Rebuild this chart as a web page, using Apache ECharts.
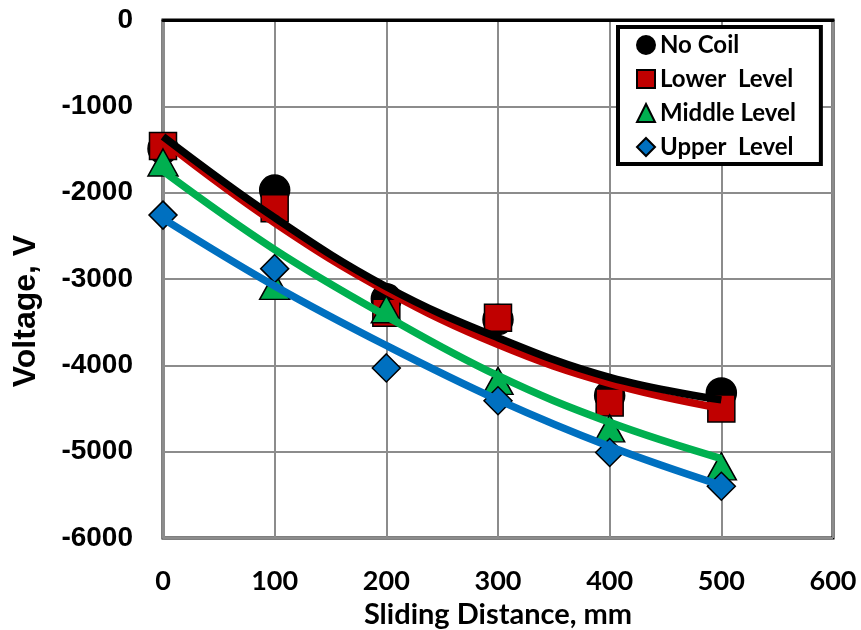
<html>
<head>
  <meta charset="utf-8">
  <title>Voltage vs Sliding Distance</title>
  <style>
    html, body { margin: 0; padding: 0; background: #fff; }
  </style>
</head>
<body>
  <div id="main" style="width: 861px;height:630px;"></div>
</body>
<script src="https://cdn.jsdelivr.net/npm/echarts@6/dist/echarts.min.js"></script>
<script>
  // measured points
  let distance = [0, 100, 200, 300, 400, 500];
  let noCoil = [-1490, -1970, -3230, -3470, -4350, -4320];
  let lowerLevel = [-1460, -2180, -3390, -3450, -4430, -4500];
  let middleLevel = [-1650, -3080, -3350, -4180, -4730, -5170];
  let upperLevel = [-2260, -2880, -4030, -4410, -5010, -5400];

  // trend curves at the same distances
  let noCoilFit = [-1350, -2290, -3090, -3680, -4140, -4400];
  let lowerFit = [-1400, -2350, -3140, -3760, -4210, -4500];
  let middleFit = [-1750, -2660, -3430, -4120, -4660, -5080];
  let upperFit = [-2300, -3080, -3770, -4400, -4940, -5390];

  let names = ['No Coil', 'Lower  Level', 'Middle Level', 'Upper  Level'];
  let colors = ['#000000', '#C00000', '#00B050', '#0070C0'];
  let symbols = ['circle', 'rect', 'triangle', 'diamond'];
  let sizes = [30, 27, [30, 27], 28];
  let points = [noCoil, lowerLevel, middleLevel, upperLevel];
  let fits = [noCoilFit, lowerFit, middleFit, upperFit];

  let pairs = arr => distance.map((d, i) => [d, arr[i]]);

  let scatter = names.map((n, i) => ({
    name: n,
    type: 'scatter',
    data: pairs(points[i]),
    symbol: symbols[i],
    symbolSize: sizes[i],
    z: 2 + i,
    itemStyle: { color: colors[i], borderColor: '#000', borderWidth: 1.5, opacity: 1 }
  }));

  // black curve sits on top of the red one
  let lineZ = [14, 13, 12, 11];
  let curves = names.map((n, i) => ({
    name: n + ' fit',
    type: 'line',
    data: pairs(fits[i]),
    smooth: 0.4,
    showSymbol: false,
    symbol: 'none',
    z: lineZ[i],
    lineStyle: { color: colors[i], width: 7.5 },
    silent: true
  }));

  var myChart = echarts.init(document.getElementById('main'));

  option = {
    animation: false,
    grid: {
      left: 163, right: 28, top: 20, bottom: 92,
      outerBoundsMode: 'none',
      show: true, borderColor: '#000', borderWidth: 3
    },
    legend: {
      data: names,
      orient: 'vertical',
      left: 618,
      top: 27,
      itemWidth: 18,
      itemHeight: 18,
      itemGap: 10,
      padding: [6, 25, 5, 18],
      backgroundColor: '#fff',
      borderColor: '#000',
      borderWidth: 4,
      textStyle: { fontFamily: 'Lato', fontWeight: 'bold', fontSize: 24, color: '#000' }
    },
    xAxis: {
      type: 'value',
      min: 0,
      max: 600,
      interval: 100,
      name: 'Sliding Distance, mm',
      nameLocation: 'middle',
      nameGap: 62,
      nameTextStyle: { fontFamily: 'Lato', fontWeight: 'bold', fontSize: 29, color: '#000' },
      axisLine: { show: true, lineStyle: { color: '#000', width: 3 } },
      axisTick: { show: false },
      axisLabel: { margin: 30, fontFamily: 'Lato', fontWeight: 'bold', fontSize: 27, color: '#000' },
      splitLine: { show: true, lineStyle: { color: '#8c8c8c', width: 2 } }
    },
    yAxis: {
      type: 'value',
      min: -6000,
      max: 0,
      interval: 1000,
      name: 'Voltage, V',
      nameLocation: 'middle',
      nameGap: 121,
      nameTextStyle: { fontFamily: 'Liberation Sans', fontWeight: 'bold', fontSize: 32, color: '#000', padding: [0, 64, 0, 0] },
      axisLine: { show: true, lineStyle: { color: '#8c8c8c', width: 3 } },
      axisTick: { show: false },
      axisLabel: { margin: 30, fontFamily: 'Liberation Sans', fontWeight: 'bold', fontSize: 28, color: '#000', formatter: v => String(v) },
      splitLine: { show: true, lineStyle: { color: '#8c8c8c', width: 2 } }
    },
    series: scatter.concat(curves)
  };

  myChart.setOption(option);
</script>
</html>
